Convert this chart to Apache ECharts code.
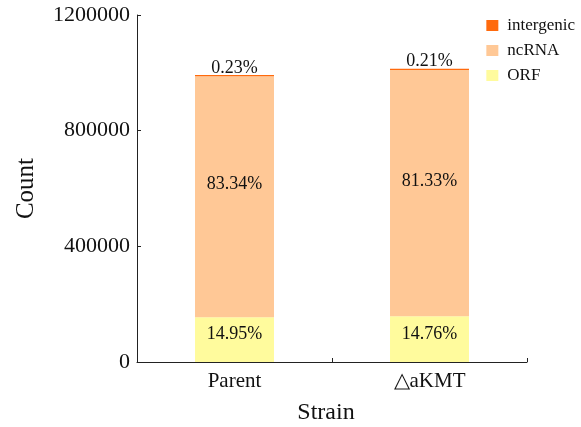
<!DOCTYPE html>
<html>
<head>
<meta charset="utf-8">
<script src="https://cdn.jsdelivr.net/npm/echarts@6/dist/echarts.min.js"></script>
<style>
  html, body { margin: 0; padding: 0; background: #fff; }
  #chart { width: 581px; height: 427px; }
</style>
</head>
<body>
<div id="chart"></div>
<script>
const strains = ['Parent', '\u25B3aKMT'];
const orfCounts = [154600, 158000];
const ncrnaCounts = [833900, 851800];
const intergenicCounts = [4000, 4500];
const orfPct = ['14.95%', '14.76%'];
const ncrnaPct = ['83.34%', '81.33%'];
const intergenicPct = ['0.23%', '0.21%'];
const yTicks = [0, 400000, 800000, 1200000];

const serif = 'Liberation Serif';
const chart = echarts.init(document.getElementById('chart'));

const makeSeries = (name, counts, pcts, color, pos, offset) => ({
  name: name,
  type: 'bar',
  stack: 'total',
  barWidth: '40.5%',
  itemStyle: { color: color },
  label: {
    show: true,
    position: pos,
    distance: 1,
    offset: offset,
    color: '#111',
    fontFamily: serif,
    fontSize: 18,
    formatter: p => pcts[p.dataIndex]
  },
  data: counts
});

const option = {
  animation: false,
  grid: { left: 137, top: 15, right: 54, bottom: 65, outerBoundsMode: 'none' },
  legend: {
    orient: 'vertical',
    right: 1,
    top: 12,
    itemWidth: 12,
    itemHeight: 11,
    itemGap: 8,
    icon: 'rect',
    data: ['intergenic', 'ncRNA', 'ORF'],
    textStyle: { fontFamily: serif, fontSize: 17, color: '#111', padding: [0, 0, 0, 4] }
  },
  xAxis: {
    type: 'category',
    data: strains,
    name: 'Strain',
    nameLocation: 'middle',
    nameGap: 39,
    nameTextStyle: { fontFamily: serif, fontSize: 24, color: '#111', padding: [0, 12, 0, 0] },
    axisLine: { lineStyle: { color: '#222', width: 1 } },
    axisTick: { show: true, inside: true, length: 4, lineStyle: { color: '#222' } },
    axisLabel: { fontFamily: serif, fontSize: 21, color: '#111', margin: 9 }
  },
  yAxis: {
    type: 'value',
    min: 0,
    max: yTicks[yTicks.length - 1],
    interval: yTicks[1] - yTicks[0],
    name: 'Count',
    nameLocation: 'middle',
    nameGap: 98,
    nameTextStyle: { fontFamily: serif, fontSize: 25, color: '#111' },
    splitLine: { show: false },
    axisLine: { show: true, lineStyle: { color: '#222', width: 1 } },
    axisTick: { show: true, inside: true, length: 4, lineStyle: { color: '#222' } },
    axisLabel: { fontFamily: serif, fontSize: 22, color: '#111', margin: 7, formatter: v => String(v) }
  },
  series: [
    makeSeries('ORF', orfCounts, orfPct, '#FFFB9D', 'inside', [0, -5]),
    makeSeries('ncRNA', ncrnaCounts, ncrnaPct, '#FFC896', 'inside', [0, -12]),
    makeSeries('intergenic', intergenicCounts, intergenicPct, '#FF6A0D', 'top', [0, 3])
  ]
};

chart.setOption(option);
</script>
</body>
</html>
